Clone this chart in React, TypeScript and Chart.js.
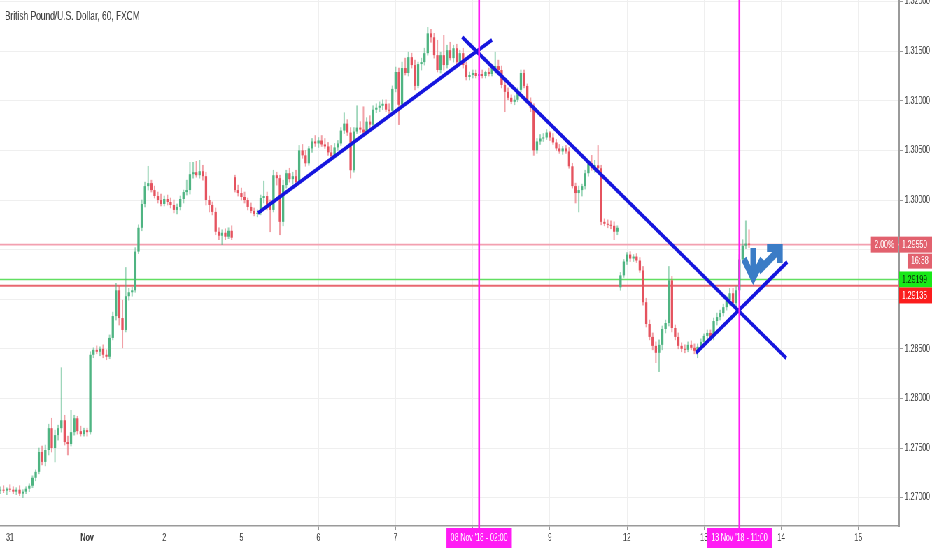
import { useEffect, useRef } from 'react';
import { Chart, registerables } from 'chart.js';

Chart.register(...registerables);

// the screenshot is squeezed horizontally, so draw wide and scale the canvas down on x
const W = 1332;
const H = 550;
const SQUEEZE = 932 / W;
const PLOT_RIGHT = 1285;
const FONT = "'Liberation Sans', Arial, sans-serif";

const title = 'British Pound/U.S. Dollar, 60, FXCM';

// hourly bars, hours counted on trading time from 31 Oct 00:00
const firstBarHour = -3;

const opens = [
  1.2707, 1.2708, 1.2707, 1.2709, 1.2708, 1.2706, 1.2708, 1.2704, 1.2706, 1.2709,
  1.2712, 1.2720, 1.2726, 1.2746, 1.2736, 1.2748, 1.2770, 1.2750, 1.2763, 1.2770,
  1.2778, 1.2756, 1.2754, 1.2766, 1.2780, 1.2767, 1.2764, 1.2768, 1.2766, 1.2844,
  1.2849, 1.2847, 1.2850, 1.2844, 1.2842, 1.2861, 1.2883, 1.2909, 1.2881, 1.2869,
  1.2903, 1.2907, 1.2909, 1.2948, 1.2972, 1.2996, 1.3014, 1.3017, 1.3010, 1.3004,
  1.3000, 1.2996, 1.3001, 1.2998, 1.2995, 1.2990, 1.2993, 1.3001, 1.3008, 1.3010,
  1.3026, 1.3028, 1.3025, 1.3029, 1.3024, 1.3000, 1.2995, 1.2988, 1.2968, 1.2964,
  1.2967, 1.2963, 1.2969, 1.3023, 1.3010, 1.3007, 1.3003, 1.3000, 1.2993, 1.2989,
  1.2986, 1.2987, 1.3002, 1.3004, 1.2995, 1.2990, 1.3025, 1.3022, 1.2978, 1.3015,
  1.3027, 1.3021, 1.3024, 1.3018, 1.3050, 1.3045, 1.3037, 1.3052, 1.3059, 1.3057,
  1.3060, 1.3056, 1.3054, 1.3048, 1.3044, 1.3053, 1.3057, 1.3070, 1.3077, 1.3068,
  1.3030, 1.3069, 1.3073, 1.3071, 1.3068, 1.3079, 1.3076, 1.3091, 1.3093, 1.3095,
  1.3097, 1.3091, 1.3090, 1.3112, 1.3129, 1.3096, 1.3133, 1.3128, 1.3144, 1.3136,
  1.3115, 1.3137, 1.3139, 1.3148, 1.3168, 1.3164, 1.3146, 1.3131, 1.3146, 1.3136,
  1.3151, 1.3143, 1.3153, 1.3139, 1.3148, 1.3136, 1.3124, 1.3126, 1.3128, 1.3125,
  1.3127, 1.3125, 1.3129, 1.3127, 1.3133, 1.3135, 1.3131, 1.3116, 1.3109, 1.3103,
  1.3099, 1.3101, 1.3111, 1.3128, 1.3115, 1.3099, 1.3093, 1.3050, 1.3059, 1.3062,
  1.3063, 1.3068, 1.3063, 1.3058, 1.3052, 1.3049, 1.3052, 1.3049, 1.3034, 1.3014,
  1.3007, 1.3010, 1.3014, 1.3027, 1.3037, 1.3032, 1.3035, 1.3032, 1.2978, 1.2976,
  1.2975, 1.2974, 1.2968, 1.2912, 1.2924, 1.2938, 1.2945, 1.2941, 1.2943, 1.2939,
  1.2929, 1.2897, 1.2875, 1.2862, 1.2853, 1.2846, 1.2854, 1.2870, 1.2876, 1.2919,
  1.2871, 1.2862, 1.2853, 1.2850, 1.2849, 1.2854, 1.2851, 1.2848, 1.2852, 1.2857,
  1.2863, 1.2866, 1.2862, 1.2878, 1.2882, 1.2886, 1.2892, 1.2899, 1.2906, 1.2896,
  1.2909, 1.2940, 1.2954, 1.2956,
];

const highs = [
  1.2711, 1.2712, 1.2710, 1.2713, 1.2711, 1.2710, 1.2712, 1.2708, 1.2711, 1.2714,
  1.2722, 1.2728, 1.2750, 1.2752, 1.2753, 1.2774, 1.2780, 1.2768, 1.2773, 1.2831,
  1.2783, 1.2762, 1.2788, 1.2783, 1.2782, 1.2772, 1.2770, 1.2770, 1.2847, 1.2851,
  1.2853, 1.2852, 1.2854, 1.2849, 1.2864, 1.2887, 1.2916, 1.2913, 1.2899, 1.2932,
  1.2911, 1.2912, 1.2952, 1.2975, 1.3000, 1.3018, 1.3034, 1.3020, 1.3014, 1.3008,
  1.3006, 1.3004, 1.3005, 1.3002, 1.3000, 1.2996, 1.3004, 1.3010, 1.3020, 1.3038,
  1.3038, 1.3039, 1.3040, 1.3035, 1.3028, 1.3004, 1.2998, 1.2992, 1.2972, 1.2970,
  1.2971, 1.2972, 1.2974, 1.3025, 1.3015, 1.3012, 1.3008, 1.3002, 1.2997, 1.2992,
  1.2990, 1.3005, 1.3019, 1.3008, 1.3000, 1.3030, 1.3028, 1.3025, 1.3020, 1.3030,
  1.3032, 1.3028, 1.3030, 1.3055, 1.3056, 1.3050, 1.3054, 1.3062, 1.3065, 1.3063,
  1.3065, 1.3062, 1.3058, 1.3055, 1.3057, 1.3060, 1.3073, 1.3088, 1.3081, 1.3073,
  1.3073, 1.3095, 1.3079, 1.3094, 1.3083, 1.3085, 1.3095, 1.3097, 1.3099, 1.3101,
  1.3101, 1.3097, 1.3115, 1.3134, 1.3133, 1.3139, 1.3143, 1.3149, 1.3148, 1.3141,
  1.3139, 1.3143, 1.3153, 1.3174, 1.3172, 1.3168, 1.3161, 1.3149, 1.3166, 1.3156,
  1.3159, 1.3156, 1.3157, 1.3151, 1.3153, 1.3139, 1.3129, 1.3131, 1.3131, 1.3131,
  1.3131, 1.3130, 1.3133, 1.3135, 1.3149, 1.3141, 1.3135, 1.3119, 1.3113, 1.3106,
  1.3105, 1.3113, 1.3131, 1.3131, 1.3117, 1.3103, 1.3097, 1.3062, 1.3066, 1.3067,
  1.3071, 1.3069, 1.3067, 1.3061, 1.3056, 1.3054, 1.3055, 1.3053, 1.3037, 1.3017,
  1.3014, 1.3016, 1.3030, 1.3040, 1.3045, 1.3040, 1.3055, 1.3035, 1.2981, 1.2980,
  1.2979, 1.2978, 1.2974, 1.2927, 1.2940, 1.2947, 1.2948, 1.2945, 1.2946, 1.2942,
  1.2933, 1.2901, 1.2879, 1.2866, 1.2857, 1.2859, 1.2873, 1.2879, 1.2933, 1.2923,
  1.2874, 1.2866, 1.2856, 1.2854, 1.2857, 1.2858, 1.2855, 1.2855, 1.2860, 1.2865,
  1.2869, 1.2869, 1.2881, 1.2886, 1.2889, 1.2895, 1.2903, 1.2911, 1.2911, 1.2913,
  1.2945, 1.2960, 1.2979, 1.2970,
];

const lows = [
  1.2704, 1.2705, 1.2703, 1.2706, 1.2704, 1.2703, 1.2702, 1.2700, 1.2704, 1.2706,
  1.2710, 1.2717, 1.2724, 1.2733, 1.2732, 1.2743, 1.2746, 1.2736, 1.2758, 1.2766,
  1.2753, 1.2743, 1.2752, 1.2763, 1.2764, 1.2762, 1.2762, 1.2762, 1.2764, 1.2841,
  1.2845, 1.2843, 1.2841, 1.2839, 1.2840, 1.2859, 1.2879, 1.2874, 1.2851, 1.2867,
  1.2899, 1.2903, 1.2907, 1.2946, 1.2969, 1.2993, 1.3010, 1.3008, 1.3002, 1.2997,
  1.2994, 1.2994, 1.2995, 1.2992, 1.2987, 1.2986, 1.2990, 1.2997, 1.3005, 1.3006,
  1.3022, 1.3023, 1.3022, 1.3020, 1.2995, 1.2988, 1.2985, 1.2965, 1.2960, 1.2955,
  1.2960, 1.2961, 1.2960, 1.3008, 1.3004, 1.3000, 1.2997, 1.2990, 1.2987, 1.2984,
  1.2983, 1.2985, 1.2997, 1.2990, 1.2968, 1.2988, 1.3015, 1.2965, 1.2974, 1.3012,
  1.3018, 1.3016, 1.3015, 1.3016, 1.3042, 1.3034, 1.3035, 1.3048, 1.3054, 1.3053,
  1.3054, 1.3052, 1.3045, 1.3042, 1.3042, 1.3050, 1.3055, 1.3067, 1.3065, 1.3022,
  1.3028, 1.3067, 1.3068, 1.3066, 1.3066, 1.3073, 1.3074, 1.3088, 1.3089, 1.3091,
  1.3089, 1.3087, 1.3088, 1.3109, 1.3076, 1.3094, 1.3126, 1.3125, 1.3133, 1.3111,
  1.3113, 1.3131, 1.3136, 1.3146, 1.3159, 1.3143, 1.3129, 1.3128, 1.3131, 1.3133,
  1.3141, 1.3139, 1.3136, 1.3137, 1.3133, 1.3121, 1.3121, 1.3123, 1.3123, 1.3121,
  1.3123, 1.3123, 1.3125, 1.3125, 1.3128, 1.3129, 1.3113, 1.3089, 1.3101, 1.3097,
  1.3096, 1.3099, 1.3109, 1.3113, 1.3097, 1.3089, 1.3045, 1.3047, 1.3056, 1.3059,
  1.3061, 1.3060, 1.3056, 1.3050, 1.3047, 1.3046, 1.3047, 1.3032, 1.3012, 1.2997,
  1.2988, 1.3004, 1.3011, 1.3024, 1.3030, 1.3028, 1.3028, 1.2975, 1.2974, 1.2972,
  1.2971, 1.2960, 1.2965, 1.2909, 1.2922, 1.2935, 1.2938, 1.2938, 1.2937, 1.2927,
  1.2894, 1.2872, 1.2859, 1.2849, 1.2836, 1.2827, 1.2849, 1.2866, 1.2873, 1.2867,
  1.2859, 1.2850, 1.2847, 1.2846, 1.2847, 1.2849, 1.2845, 1.2841, 1.2850, 1.2855,
  1.2859, 1.2859, 1.2859, 1.2874, 1.2879, 1.2883, 1.2889, 1.2894, 1.2893, 1.2889,
  1.2904, 1.2937, 1.2951, 1.2952,
];

const closes = [
  1.2708, 1.2707, 1.2709, 1.2708, 1.2706, 1.2708, 1.2704, 1.2706, 1.2709, 1.2712,
  1.2720, 1.2726, 1.2746, 1.2736, 1.2748, 1.2770, 1.2750, 1.2763, 1.2770, 1.2778,
  1.2756, 1.2754, 1.2766, 1.2780, 1.2767, 1.2764, 1.2768, 1.2766, 1.2844, 1.2849,
  1.2847, 1.2850, 1.2844, 1.2842, 1.2861, 1.2883, 1.2909, 1.2881, 1.2869, 1.2903,
  1.2907, 1.2909, 1.2948, 1.2972, 1.2996, 1.3014, 1.3017, 1.3010, 1.3004, 1.3000,
  1.2996, 1.3001, 1.2998, 1.2995, 1.2990, 1.2993, 1.3001, 1.3008, 1.3010, 1.3026,
  1.3028, 1.3025, 1.3029, 1.3024, 1.3000, 1.2995, 1.2988, 1.2968, 1.2964, 1.2967,
  1.2963, 1.2969, 1.2962, 1.3010, 1.3007, 1.3003, 1.3000, 1.2993, 1.2989, 1.2986,
  1.2987, 1.3002, 1.3004, 1.2995, 1.2990, 1.3025, 1.3022, 1.2978, 1.3015, 1.3027,
  1.3021, 1.3024, 1.3018, 1.3050, 1.3045, 1.3037, 1.3052, 1.3059, 1.3057, 1.3060,
  1.3056, 1.3054, 1.3048, 1.3044, 1.3053, 1.3057, 1.3070, 1.3077, 1.3068, 1.3030,
  1.3069, 1.3073, 1.3071, 1.3068, 1.3079, 1.3076, 1.3091, 1.3093, 1.3095, 1.3097,
  1.3091, 1.3090, 1.3112, 1.3129, 1.3096, 1.3133, 1.3128, 1.3144, 1.3136, 1.3115,
  1.3137, 1.3139, 1.3148, 1.3168, 1.3164, 1.3146, 1.3131, 1.3146, 1.3136, 1.3151,
  1.3143, 1.3153, 1.3139, 1.3148, 1.3136, 1.3124, 1.3126, 1.3128, 1.3125, 1.3127,
  1.3125, 1.3129, 1.3127, 1.3133, 1.3135, 1.3131, 1.3116, 1.3109, 1.3103, 1.3099,
  1.3101, 1.3111, 1.3128, 1.3115, 1.3099, 1.3093, 1.3050, 1.3059, 1.3062, 1.3063,
  1.3068, 1.3063, 1.3058, 1.3052, 1.3049, 1.3052, 1.3049, 1.3034, 1.3014, 1.3007,
  1.3010, 1.3014, 1.3027, 1.3037, 1.3032, 1.3035, 1.3032, 1.2978, 1.2976, 1.2975,
  1.2974, 1.2968, 1.2972, 1.2924, 1.2938, 1.2945, 1.2941, 1.2943, 1.2939, 1.2929,
  1.2897, 1.2875, 1.2862, 1.2853, 1.2846, 1.2854, 1.2870, 1.2876, 1.2919, 1.2871,
  1.2862, 1.2853, 1.2850, 1.2849, 1.2854, 1.2851, 1.2848, 1.2852, 1.2857, 1.2863,
  1.2866, 1.2862, 1.2878, 1.2882, 1.2886, 1.2892, 1.2899, 1.2906, 1.2896, 1.2909,
  1.2940, 1.2954, 1.2956, 1.2955,
];

// day boundaries on the time axis and their labels
const dayTicks = [0, 24, 48, 72, 96, 120, 144, 168, 192, 216, 240, 264];
const dayLabels = ['31', 'Nov', '2', '5', '6', '7', '8', '9', '12', '13', '14', '15'];
const priceTicks = [1.27, 1.275, 1.28, 1.285, 1.29, 1.295, 1.3, 1.305, 1.31, 1.315, 1.32];

const hourMin = -3.11;
const hourMax = 276.7;
const priceMin = 1.26714;
const priceMax = 1.32016;

// horizontal levels with their axis tags
const levelPrices = [1.2955, 1.29199, 1.29135];
const levelLineColors = ['#f3a0b0', '#62df62', '#e86870'];
const levelLineWidths = [1.6, 1.4, 1.9];
const levelTagColors = ['#e2616e', '#18e818', '#fb1d1d'];
const levelTextColors = ['#ffffff', '#0d2a0d', '#ffffff'];
const changeText = '2.00%';
const countdownText = '16:38';

// vertical markers (hour, label)
const markerHours = [146, 227];
const markerLabels = ["08 Nov '18 - 02:00", "13 Nov '18 - 11:00"];

// drawn trend lines as [hour, price] end points
const trendLines = [
  [[77.2, 1.29869], [150.0, 1.31613]],
  [[140.7, 1.31643], [241.6, 1.28407]],
  [[213.5, 1.28458], [241.9, 1.29375]],
];

// the hand drawn arrows near the right edge, [hour, price] polylines
const arrowStrokes = [
  [[231.3, 1.29516], [231.3, 1.29254]],
  [[228.4, 1.29405], [231.3, 1.29214], [234.2, 1.29405]],
  [[233.0, 1.29284], [239.0, 1.29486]],
  [[235.6, 1.29516], [239.6, 1.29516], [239.6, 1.29365]],
];

const UP = '#4fb482';
const DOWN = '#e5535f';
const UP_WICK = 'rgba(79,180,130,0.55)';
const DOWN_WICK = 'rgba(229,83,95,0.55)';

const overlayPlugin = {
  id: 'overlay',
  beforeDatasetsDraw(chart: any) {
    const { ctx, chartArea: a, scales } = chart;
    ctx.save();
    levelPrices.forEach((p, i) => {
      const py = scales.y.getPixelForValue(p);
      ctx.strokeStyle = levelLineColors[i];
      ctx.lineWidth = levelLineWidths[i];
      ctx.beginPath();
      ctx.moveTo(a.left, py);
      ctx.lineTo(a.right, py);
      ctx.stroke();
    });
    ctx.restore();
  },
  afterDatasetsDraw(chart: any) {
    const { ctx, scales } = chart;
    ctx.save();
    ctx.strokeStyle = '#3b7cc6';
    ctx.lineWidth = 8;
    ctx.lineJoin = 'miter';
    ctx.lineCap = 'butt';
    arrowStrokes.forEach((pts) => {
      ctx.beginPath();
      pts.forEach(([h, p], j) => {
        const px = scales.x.getPixelForValue(h);
        const py = scales.y.getPixelForValue(p);
        if (j === 0) ctx.moveTo(px, py);
        else ctx.lineTo(px, py);
      });
      ctx.stroke();
    });
    ctx.restore();
  },
  afterDraw(chart: any) {
    const { ctx, chartArea: a, scales } = chart;
    ctx.save();

    // magenta time markers
    ctx.font = `10px ${FONT}`;
    ctx.textAlign = 'center';
    ctx.textBaseline = 'middle';
    markerHours.forEach((h, i) => {
      const px = scales.x.getPixelForValue(h);
      ctx.strokeStyle = '#ff1cf4';
      ctx.lineWidth = 2.6;
      ctx.beginPath();
      ctx.moveTo(px, 0);
      ctx.lineTo(px, a.bottom + 3);
      ctx.stroke();
      const tw = ctx.measureText(markerLabels[i]).width + 12;
      ctx.fillStyle = '#ff1cf4';
      ctx.fillRect(px - tw / 2, a.bottom + 2, tw, 20);
      ctx.fillStyle = '#ffffff';
      ctx.fillText(markerLabels[i], px, a.bottom + 12.5);
    });

    // price tags on the right axis
    ctx.textAlign = 'left';
    let prevBottom = -Infinity;
    levelPrices.forEach((p, i) => {
      let top = scales.y.getPixelForValue(p) - 8;
      if (top < prevBottom) top = prevBottom;
      ctx.fillStyle = levelTagColors[i];
      ctx.fillRect(a.right, top, W - a.right, 16);
      ctx.fillStyle = levelTextColors[i];
      ctx.fillText(p.toFixed(5), a.right + 4, top + 8.5);
      prevBottom = top + 16;
      if (i === 0) {
        const cw = ctx.measureText(changeText).width + 10;
        ctx.fillStyle = levelTagColors[0];
        ctx.fillRect(a.right - 2 - cw, top, cw, 16);
        ctx.fillStyle = '#ffffff';
        ctx.fillText(changeText, a.right - 2 - cw + 5, top + 8.5);
        const dw = ctx.measureText(countdownText).width + 10;
        ctx.fillStyle = levelTagColors[0];
        ctx.fillRect(W - dw, top + 17, dw, 15);
        ctx.fillStyle = '#ffffff';
        ctx.fillText(countdownText, W - dw + 5, top + 25);
        prevBottom = top + 33;
      }
    });

    // symbol title
    ctx.font = `12px ${FONT}`;
    ctx.fillStyle = '#404040';
    ctx.textAlign = 'left';
    ctx.fillText(title, 7, 17);
    ctx.restore();
  },
};

export default function App() {
  const canvasRef = useRef<HTMLCanvasElement>(null);

  useEffect(() => {
    if (!canvasRef.current) return;

    const wickData = lows.map((l, i) => ({ x: firstBarHour + i, y: [l, highs[i]] }));
    const bodyData = opens.map((o, i) => ({ x: firstBarHour + i, y: [o, closes[i]] }));
    const isUp = closes.map((c, i) => c >= opens[i]);

    const chart = new Chart(canvasRef.current, {
      type: 'bar',
      data: {
        datasets: [
          {
            type: 'bar',
            label: 'wicks',
            data: wickData as any,
            backgroundColor: isUp.map((u) => (u ? UP_WICK : DOWN_WICK)),
            barThickness: 1.4,
            grouped: false,
            order: 3,
          },
          {
            type: 'bar',
            label: 'bodies',
            data: bodyData as any,
            backgroundColor: isUp.map((u) => (u ? UP : DOWN)),
            barPercentage: 0.72,
            categoryPercentage: 1,
            minBarLength: 1,
            grouped: false,
            order: 2,
          },
          ...trendLines.map((pts, i) => ({
            type: 'line' as const,
            label: `trend ${i + 1}`,
            data: pts.map(([h, p]) => ({ x: h, y: p })) as any,
            borderColor: '#1515de',
            borderWidth: 4,
            pointRadius: 0,
            fill: false,
            tension: 0,
            order: 1,
          })),
        ],
      },
      options: {
        animation: false,
        responsive: false,
        devicePixelRatio: 1,
        layout: { padding: 0 },
        plugins: {
          legend: { display: false },
          tooltip: { enabled: false },
          title: { display: false },
        },
        scales: {
          x: {
            type: 'linear',
            min: hourMin,
            max: hourMax,
            offset: false,
            afterBuildTicks: (s: any) => {
              s.ticks = dayTicks.map((v) => ({ value: v }));
            },
            afterFit: (s: any) => {
              s.height = H - 526;
              s.paddingLeft = 0;
              s.paddingRight = 0;
            },
            ticks: {
              autoSkip: false,
              maxRotation: 0,
              minRotation: 0,
              padding: 2,
              color: '#3c3c3c',
              font: (c: any) => ({
                size: 10,
                family: FONT,
                weight: dayLabels[c.index] === 'Nov' ? 'bold' : 'normal',
              }),
              callback: (_v: any, i: number) => dayLabels[i],
            },
            grid: { offset: false, color: '#efefef', tickLength: 4, tickColor: '#9a9a9a' },
            border: { color: '#9a9a9a', width: 1.5 },
          },
          y: {
            type: 'linear',
            position: 'right',
            min: priceMin,
            max: priceMax,
            afterBuildTicks: (s: any) => {
              s.ticks = priceTicks.map((v) => ({ value: v }));
            },
            afterFit: (s: any) => {
              s.width = W - PLOT_RIGHT;
              s.paddingTop = 0;
              s.paddingBottom = 0;
            },
            ticks: {
              autoSkip: false,
              padding: 3,
              color: '#3c3c3c',
              font: { size: 10, family: FONT },
              callback: (v: any) => Number(v).toFixed(5),
            },
            grid: { color: '#efefef', tickLength: 5, tickColor: '#9a9a9a' },
            border: { color: '#9a9a9a', width: 2 },
          },
        },
      },
      plugins: [overlayPlugin],
    });

    return () => chart.destroy();
  }, []);

  return (
    <div
      style={{
        position: 'fixed',
        left: 0,
        top: 0,
        width: W,
        height: H,
        background: '#ffffff',
        transform: `scaleX(${SQUEEZE})`,
        transformOrigin: '0 0',
      }}
    >
      <canvas ref={canvasRef} width={W} height={H} style={{ display: 'block' }} />
    </div>
  );
}
